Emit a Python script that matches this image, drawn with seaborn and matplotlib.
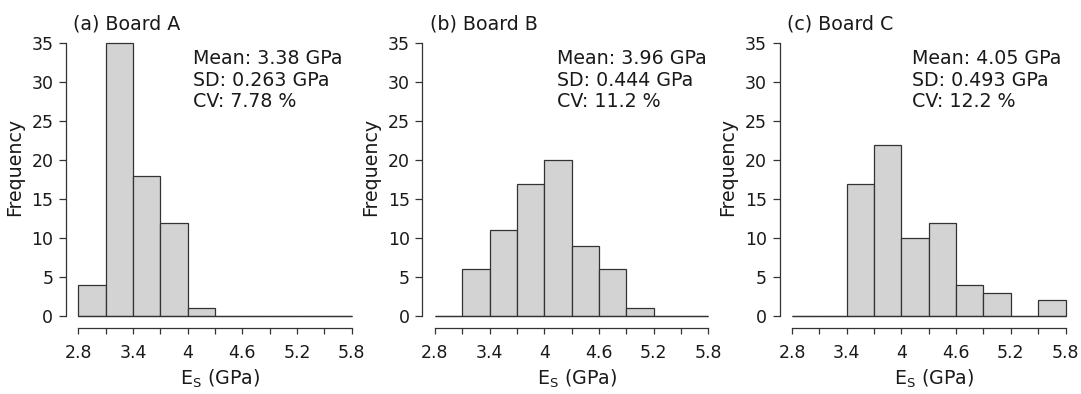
import matplotlib
matplotlib.use("Agg")
import matplotlib.pyplot as plt
from matplotlib.ticker import FixedLocator
import seaborn as sns

# histogram bins (GPa) and counts per board
BIN_EDGES = [2.8, 3.1, 3.4, 3.7, 4.0, 4.3, 4.6, 4.9, 5.2, 5.5, 5.8]
COUNTS_A = [4, 35, 18, 12, 1, 0, 0, 0, 0, 0]
COUNTS_B = [0, 6, 11, 17, 20, 9, 6, 1, 0, 0]
COUNTS_C = [0, 0, 17, 22, 10, 12, 4, 3, 0, 2]

TITLES = ["(a) Board A", "(b) Board B", "(c) Board C"]
MEANS = ["3.38", "3.96", "4.05"]
SDS = ["0.263", "0.444", "0.493"]
CVS = ["7.78", "11.2", "12.2"]

X_TICKS = [2.8, 3.4, 4.0, 4.6, 5.2, 5.8]
X_TICK_LABELS = ["2.8", "3.4", "4", "4.6", "5.2", "5.8"]
X_MINOR = [3.1, 3.7, 4.3, 4.9, 5.5]
Y_TICKS = [0, 5, 10, 15, 20, 25, 30, 35]

TEXT_COLOR = "#1a1a1a"
LINE_COLOR = "#333333"
TICK_SIZE = 12.5
TEXT_SIZE = 13.7


def draw_panel(ax, counts, title, mean, sd, cv, stats_x):
    mids = [(lo + hi) / 2 for lo, hi in zip(BIN_EDGES[:-1], BIN_EDGES[1:])]
    sns.histplot(
        x=mids,
        weights=counts,
        bins=BIN_EDGES,
        color="#d3d3d3",
        edgecolor=LINE_COLOR,
        linewidth=0.9,
        alpha=1,
        ax=ax,
    )
    for p in ax.patches:
        p.set_clip_on(False)
    # R-style baseline under the empty bins
    ax.hlines(0, BIN_EDGES[0], BIN_EDGES[-1], color=LINE_COLOR, linewidth=0.9,
              zorder=3, clip_on=False)
    ax.set_xlim(2.8, 5.8)
    ax.set_ylim(0, 35)

    for side in ["top", "right"]:
        ax.spines[side].set_visible(False)
    ax.spines["left"].set_position(("outward", 9))
    ax.spines["bottom"].set_position(("outward", 8.4))
    ax.spines["left"].set_bounds(0, 35)
    ax.spines["bottom"].set_bounds(2.8, 5.8)
    for side in ["left", "bottom"]:
        ax.spines[side].set_color(LINE_COLOR)
        ax.spines[side].set_linewidth(0.9)

    ax.xaxis.set_major_locator(FixedLocator(X_TICKS))
    ax.set_xticklabels(X_TICK_LABELS)
    ax.xaxis.set_minor_locator(FixedLocator(X_MINOR))
    ax.set_yticks(Y_TICKS)
    ax.tick_params(axis="x", which="both", length=4.5, width=0.9,
                   color=LINE_COLOR, pad=7, labelsize=TICK_SIZE, labelcolor=TEXT_COLOR)
    ax.tick_params(axis="y", length=5, width=0.9, color=LINE_COLOR,
                   pad=4, labelsize=TICK_SIZE, labelcolor=TEXT_COLOR)

    ax.set_xlabel(r"$\mathregular{E_S}$ (GPa)", fontsize=TEXT_SIZE, color=TEXT_COLOR)
    ax.xaxis.set_label_coords(0.52, -0.188)
    ax.set_ylabel("Frequency", fontsize=13.7, color=TEXT_COLOR)
    ax.yaxis.set_label_coords(-0.199, 0.546)

    ax.text(-0.018, 1.072, title, transform=ax.transAxes, ha="left", va="center",
            fontsize=TEXT_SIZE, color=TEXT_COLOR)
    lines = [f"Mean: {mean} GPa", f"SD: {sd} GPa", f"CV: {cv} %"]
    for text, y in zip(lines, [0.945, 0.862, 0.786]):
        ax.text(stats_x, y, text, transform=ax.transAxes, ha="left", va="center",
                fontsize=TEXT_SIZE, color=TEXT_COLOR)


def main() -> None:
    sns.set_theme(style="ticks")
    plt.rcParams["font.family"] = ["DejaVu Sans"]

    fig = plt.figure(figsize=(10.81, 3.94), dpi=100)
    lefts = [0.0724, 0.4024, 0.7327]
    stats_xs = [0.42, 0.445, 0.438]
    all_counts = [COUNTS_A, COUNTS_B, COUNTS_C]

    for i in range(3):
        ax = fig.add_axes([lefts[i], 0.198, 0.253, 0.692])
        draw_panel(ax, all_counts[i], TITLES[i], MEANS[i], SDS[i], CVS[i], stats_xs[i])

    fig.savefig("out.png", dpi=100, facecolor="white")


if __name__ == "__main__":
    main()
